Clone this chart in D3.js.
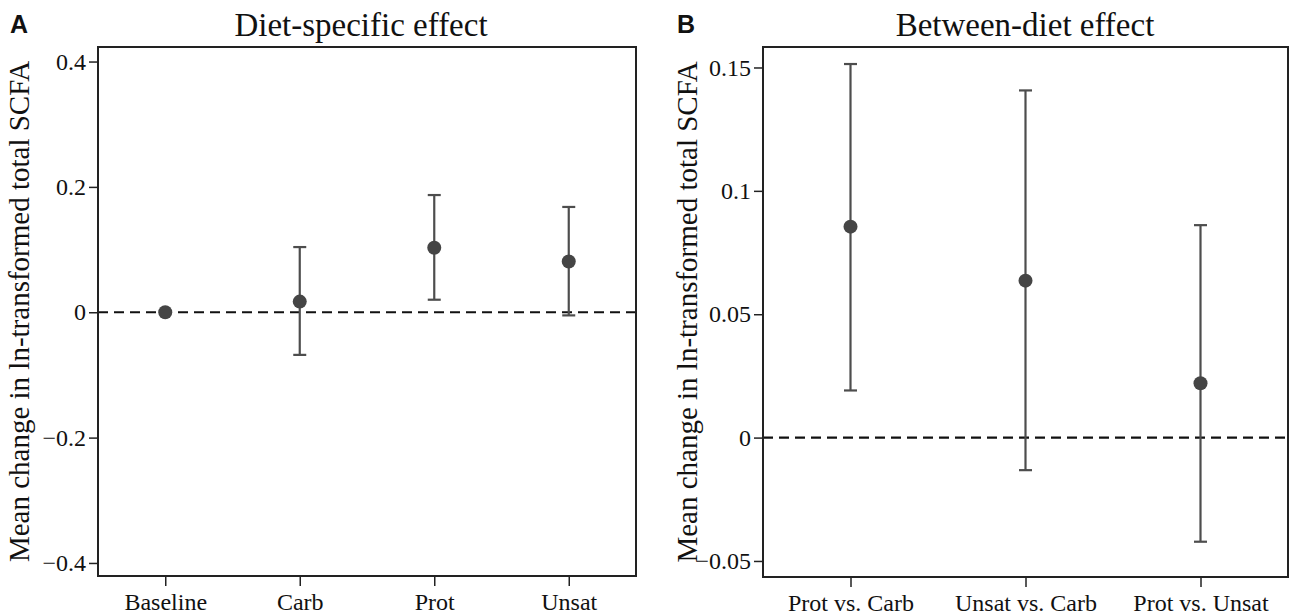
<!DOCTYPE html>
<html>
<head>
<meta charset="utf-8">
<script src="https://cdn.jsdelivr.net/npm/d3@7"></script>
<style>
  body { margin: 0; background: #fff; }
  svg text { font-family: "Liberation Serif", "Times New Roman", serif; fill: #111; }
  .panel-letter { font-family: "Liberation Sans", Arial, sans-serif !important; font-weight: bold; }
</style>
</head>
<body>
<div id="chart"></div>
<script>
// panel A: diet-specific effect
const dietCategories = ['Baseline', 'Carb', 'Prot', 'Unsat'];
const dietMean = [0, 0.017, 0.103, 0.081];
const dietLower = [0, -0.068, 0.020, -0.005];
const dietUpper = [0, 0.104, 0.187, 0.168];
const dietTicks = [-0.4, -0.2, 0, 0.2, 0.4];

// panel B: between-diet effect
const pairCategories = ['Prot vs. Carb', 'Unsat vs. Carb', 'Prot vs. Unsat'];
const pairMean = [0.0855, 0.0636, 0.022];
const pairLower = [0.0191, -0.0132, -0.0422];
const pairUpper = [0.1514, 0.1407, 0.0861];
const pairTicks = [-0.05, 0, 0.05, 0.1, 0.15];

const yLabel = 'Mean change in ln-transformed total SCFA';

const width = 1291, height = 616;
const svg = d3.select('#chart').append('svg')
  .attr('width', width)
  .attr('height', height);

function drawPanel(opts) {
  const { letter, title, titleX, cats, mean, lower, upper, ticks, yDomain, box, letterX, labelX } = opts;
  const data = cats.map((c, i) => ({ cat: c, m: mean[i], lo: lower[i], hi: upper[i] }));

  const x = d3.scalePoint().domain(cats).range([box.left, box.right]).padding(0.5);
  const y = d3.scaleLinear().domain(yDomain).range([box.bottom, box.top]);

  const g = svg.append('g');

  // panel letter and title
  g.append('text').attr('class', 'panel-letter')
    .attr('x', letterX).attr('y', 33)
    .style('font-size', '25px')
    .text(letter);
  g.append('text')
    .attr('x', titleX).attr('y', 36)
    .attr('text-anchor', 'middle')
    .style('font-size', '33px')
    .text(title);

  // zero reference line
  g.append('line')
    .attr('x1', box.left).attr('x2', box.right)
    .attr('y1', y(0)).attr('y2', y(0))
    .attr('stroke', '#111').attr('stroke-width', 2.2)
    .attr('stroke-dasharray', '10,6');

  // error bars
  const eb = g.selectAll('.eb').data(data.filter(d => d.hi !== d.lo)).enter()
    .append('g').attr('class', 'eb')
    .attr('stroke', '#4d4d4d').attr('stroke-width', 2.2);
  eb.append('line')
    .attr('x1', d => x(d.cat)).attr('x2', d => x(d.cat))
    .attr('y1', d => y(d.lo)).attr('y2', d => y(d.hi));
  eb.append('line')
    .attr('x1', d => x(d.cat) - 6.5).attr('x2', d => x(d.cat) + 6.5)
    .attr('y1', d => y(d.hi)).attr('y2', d => y(d.hi));
  eb.append('line')
    .attr('x1', d => x(d.cat) - 6.5).attr('x2', d => x(d.cat) + 6.5)
    .attr('y1', d => y(d.lo)).attr('y2', d => y(d.lo));

  // points
  g.selectAll('.pt').data(data).enter().append('circle')
    .attr('class', 'pt')
    .attr('cx', d => x(d.cat)).attr('cy', d => y(d.m))
    .attr('r', 7)
    .attr('fill', '#454545');

  // frame
  g.append('rect')
    .attr('x', box.left).attr('y', box.top)
    .attr('width', box.right - box.left).attr('height', box.bottom - box.top)
    .attr('fill', 'none').attr('stroke', '#222').attr('stroke-width', 2);

  // axes
  const yAxis = g.append('g')
    .attr('transform', 'translate(' + box.left + ',0)')
    .call(d3.axisLeft(y).tickValues(ticks).tickSize(9).tickPadding(3).tickFormat(d3.format('~g')));
  yAxis.select('.domain').remove();
  yAxis.selectAll('text').style('font-size', '24px');
  yAxis.selectAll('line').attr('stroke', '#222').attr('stroke-width', 1.5);

  const xAxis = g.append('g')
    .attr('transform', 'translate(0,' + box.bottom + ')')
    .call(d3.axisBottom(x).tickSize(10));
  xAxis.select('.domain').remove();
  xAxis.selectAll('text')
    .attr('y', 34).attr('dy', null)
    .style('font-size', '24px');
  xAxis.selectAll('line').attr('stroke', '#222').attr('stroke-width', 1.5);

  // y label
  g.append('text')
    .attr('transform', 'translate(' + labelX + ',' + (box.top + box.bottom) / 2 + ') rotate(-90)')
    .attr('text-anchor', 'middle')
    .style('font-size', '29px')
    .text(yLabel);
}

drawPanel({
  letter: 'A', title: 'Diet-specific effect', titleX: 361,
  cats: dietCategories, mean: dietMean, lower: dietLower, upper: dietUpper,
  ticks: dietTicks, yDomain: [-0.4208, 0.4232],
  box: { left: 98, right: 636, top: 47, bottom: 576 },
  letterX: 10, labelX: 29
});

drawPanel({
  letter: 'B', title: 'Between-diet effect', titleX: 1025,
  cats: pairCategories, mean: pairMean, lower: pairLower, upper: pairUpper,
  ticks: pairTicks, yDomain: [-0.0565, 0.1583],
  box: { left: 763, right: 1288, top: 47, bottom: 577 },
  letterX: 677, labelX: 697
});
</script>
</body>
</html>
